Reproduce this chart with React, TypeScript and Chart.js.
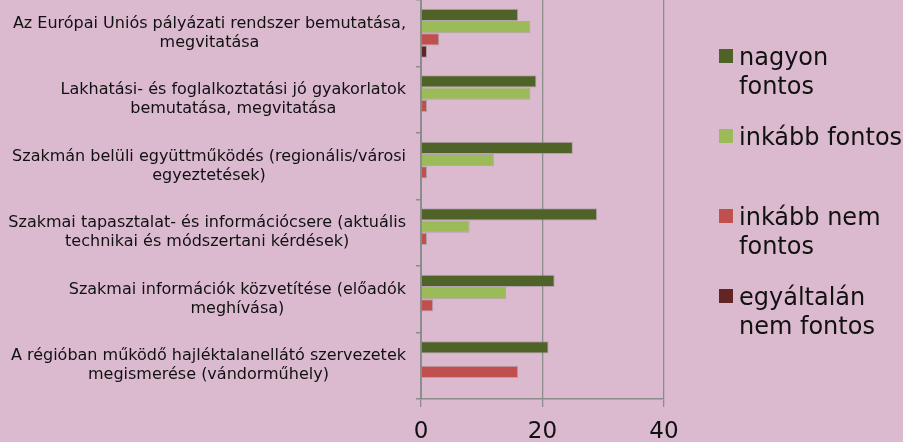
import React, { useEffect, useRef } from "react";
import { Chart, registerables } from "chart.js";

Chart.register(...registerables);

const categories: string[][] = [
  ["Az Európai Uniós pályázati rendszer bemutatása,", "megvitatása"],
  ["Lakhatási- és foglalkoztatási jó gyakorlatok", "bemutatása, megvitatása"],
  ["Szakmán belüli együttműködés (regionális/városi", "egyeztetések)"],
  ["Szakmai tapasztalat- és információcsere (aktuális", "technikai és módszertani kérdések)"],
  ["Szakmai információk közvetítése (előadók", "meghívása)"],
  ["A régióban működő hajléktalanellátó szervezetek", "megismerése (vándorműhely)"],
];

const seriesNames = ["nagyon fontos", "inkább fontos", "inkább nem fontos", "egyáltalán nem fontos"];
const legendLines: string[][] = [
  ["nagyon", "fontos"],
  ["inkább fontos"],
  ["inkább nem", "fontos"],
  ["egyáltalán", "nem fontos"],
];

const nagyonFontos = [16, 19, 25, 29, 22, 21];
const inkabbFontos = [18, 18, 12, 8, 14, 0];
const inkabbNemFontos = [3, 1, 1, 1, 2, 16];
const egyaltalanNemFontos = [1, 0, 0, 0, 0, 0];

const xTicks = [0, 20, 40];

const colors = ["#4F6228", "#9BBB59", "#C0504D", "#632523"];
const BG = "#DBBAD0";
const FONT = "'DejaVu Sans', Verdana, sans-serif";

export default function App() {
  const ref = useRef<HTMLCanvasElement | null>(null);

  useEffect(() => {
    document.body.style.margin = "0";
    const canvas = ref.current!;
    const bgPlugin = {
      id: "bg",
      beforeDraw(chart: any) {
        const ctx = chart.ctx;
        ctx.save();
        ctx.fillStyle = BG;
        ctx.fillRect(0, 0, chart.width, chart.height);
        ctx.restore();
      },
    };
    const labelPlugin = {
      id: "ylabels",
      afterDraw(chart: any) {
        const ctx = chart.ctx;
        const ys = chart.scales.y;
        ctx.save();
        ctx.font = `16px ${FONT}`;
        ctx.fillStyle = "#111";
        ctx.textAlign = "center";
        ctx.textBaseline = "middle";
        const lh = 19;
        categories.forEach((lines, i) => {
          const y = ys.getPixelForValue(i);
          const widest = Math.max(...lines.map((l) => ctx.measureText(l).width));
          const cx = 406 - widest / 2;
          const y0 = y - ((lines.length - 1) * lh) / 2;
          lines.forEach((l, j) => ctx.fillText(l, cx, y0 + j * lh));
        });
        // legend
        ctx.font = `24px ${FONT}`;
        ctx.textAlign = "left";
        ctx.textBaseline = "alphabetic";
        const tops = [49, 129, 209, 289];
        chart.data.datasets.forEach((ds: any, i: number) => {
          const top = tops[i];
          ctx.fillStyle = ds.backgroundColor;
          ctx.fillRect(719, top, 14, 14);
          ctx.fillStyle = "#111";
          legendLines[i].forEach((l, j) => ctx.fillText(l, 739, top + 15.5 + j * 29));
        });
        ctx.restore();
      },
    };

    const data = [nagyonFontos, inkabbFontos, inkabbNemFontos, egyaltalanNemFontos];
    const chart = new Chart(canvas, {
      type: "bar",
      data: {
        labels: categories.map((c) => c.join(" ")),
        datasets: seriesNames.map((name, i) => ({
          label: name,
          data: data[i],
          backgroundColor: colors[i],
          borderColor: "rgba(140,140,140,0.5)",
          borderWidth: 1,
          categoryPercentage: 0.74,
          barPercentage: 1,
        })),
      },
      options: {
        indexAxis: "y",
        animation: false,
        responsive: false,
        devicePixelRatio: 1,
        layout: { padding: { top: 0, right: 239, left: 0, bottom: 0 } },
        plugins: { legend: { display: false }, tooltip: { enabled: false } },
        scales: {
          y: {
            type: "category",
            ticks: { display: false },
            grid: {
              drawOnChartArea: false,
              drawTicks: true,
              tickLength: 5,
              color: "#8c8c8c",
              lineWidth: 1.5,
              offset: true,
            },
            border: { display: true, color: "#8c8c8c", width: 2 },
            afterFit(s: any) {
              s.width = 421;
            },
          },
          x: {
            min: 0,
            max: 40,
            afterBuildTicks(s: any) {
              s.ticks = xTicks.map((v) => ({ value: v }));
            },
            ticks: {
              font: { size: 23, family: FONT },
              color: "#111",
              padding: 11,
            },
            grid: { color: "#8c8c8c", lineWidth: 1.3, tickLength: 8 },
            border: { display: true, color: "#8c8c8c", width: 1.5 },
            afterFit(s: any) {
              s.height = 43;
            },
          },
        },
      },
      plugins: [bgPlugin, labelPlugin],
    } as any);
    return () => chart.destroy();
  }, []);

  return (
    <div style={{ width: 903, height: 442 }}>
      <canvas ref={ref} width={903} height={442} style={{ display: "block" }} />
    </div>
  );
}
